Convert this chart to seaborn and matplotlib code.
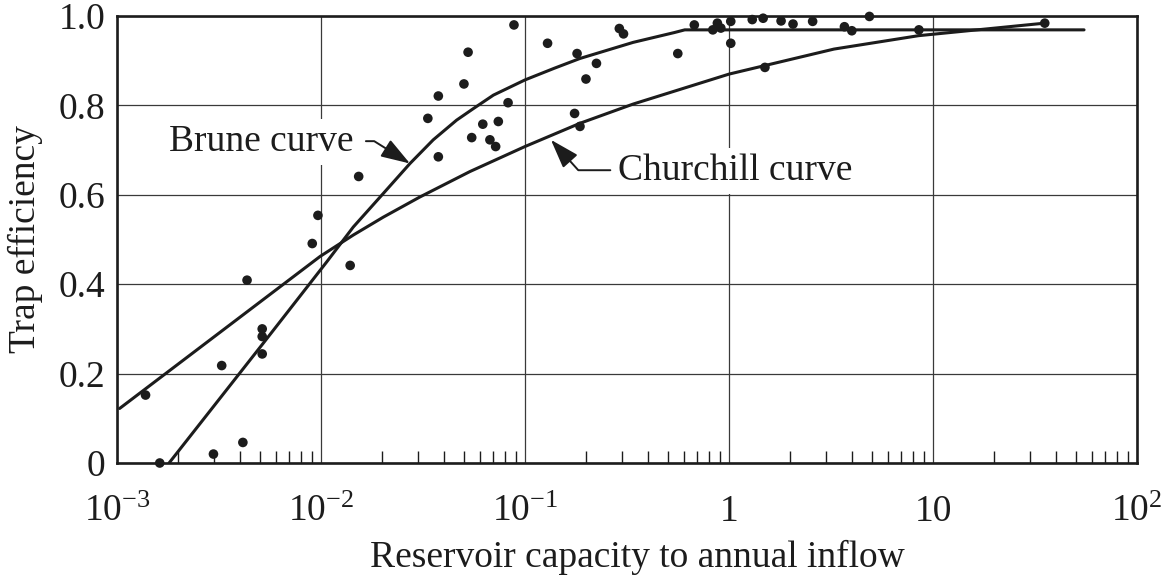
import numpy as np
import matplotlib
matplotlib.use("Agg")
import matplotlib.pyplot as plt
from matplotlib.ticker import LogLocator, NullFormatter
import seaborn as sns

# Observed reservoirs: ratio of capacity to annual inflow and measured trap efficiency
capacity_ratio = [
    1.38e-3, 1.62e-3, 2.97e-3, 4.14e-3, 3.26e-3, 4.34e-3, 5.15e-3, 5.15e-3, 5.15e-3,
    9.06e-3, 9.66e-3, 0.0139, 0.0153, 0.0376, 0.0334, 0.0376, 0.0502, 0.0526, 0.0883,
    0.0548, 0.0621, 0.0740, 0.0673, 0.0718, 0.0826, 0.129, 0.180, 0.224, 0.199, 0.175,
    0.186, 0.290, 0.304, 0.561, 0.676, 0.833, 0.877, 0.912, 1.02, 1.02, 1.30, 1.47,
    1.50, 1.80, 2.06, 2.57, 3.68, 4.00, 4.88, 8.53, 35.3,
]
trap_eff = [
    0.152, 0.0, 0.020, 0.046, 0.218, 0.409, 0.300, 0.283, 0.244,
    0.491, 0.554, 0.442, 0.641, 0.685, 0.771, 0.821, 0.848, 0.919, 0.980,
    0.728, 0.758, 0.764, 0.723, 0.708, 0.806, 0.939, 0.916, 0.894, 0.859, 0.782,
    0.753, 0.972, 0.960, 0.916, 0.980, 0.969, 0.984, 0.973, 0.988, 0.939, 0.992, 0.995,
    0.885, 0.989, 0.982, 0.988, 0.976, 0.967, 0.999, 0.969, 0.984,
]

# Brune median curve
brune_ratio = [1.80e-3, 5.15e-3, 0.01067, 0.0144, 0.0202, 0.0273, 0.0355, 0.0462,
               0.0559, 0.0700, 0.1, 0.139, 0.186, 0.339, 0.540, 0.607, 55.0]
brune_eff = [0.0, 0.265, 0.450, 0.528, 0.603, 0.670, 0.723, 0.767,
             0.793, 0.823, 0.857, 0.883, 0.905, 0.941, 0.963, 0.969, 0.969]

# Churchill curve
churchill_ratio = [1.03e-3, 0.00989, 0.0144, 0.0202, 0.0305, 0.0537, 0.1, 0.186,
                   0.339, 1.0, 3.27, 8.5, 35.3]
churchill_eff = [0.122, 0.462, 0.510, 0.550, 0.595, 0.652, 0.708, 0.760,
                 0.803, 0.870, 0.926, 0.956, 0.984]

decade_ticks = [1e-3, 1e-2, 1e-1, 1, 10, 100]
decade_labels = [r"$10^{-3}$", r"$10^{-2}$", r"$10^{-1}$", "1", "10", r"$10^{2}$"]
eff_ticks = [0, 0.2, 0.4, 0.6, 0.8, 1.0]
eff_labels = ["0", "0.2", "0.4", "0.6", "0.8", "1.0"]

sns.set_theme(style="white")
plt.rcParams["font.family"] = ["Liberation Serif", "DejaVu Serif"]
plt.rcParams["mathtext.fontset"] = "custom"
plt.rcParams["mathtext.rm"] = "Liberation Serif"
plt.rcParams["mathtext.it"] = "Liberation Serif:italic"
plt.rcParams["mathtext.default"] = "regular"
plt.rcParams["font.size"] = 27

ink = "#1c1c1c"
W, H = 1167, 577
fig, ax = plt.subplots(figsize=(W / 100, H / 100), dpi=100)
fig.subplots_adjust(left=117 / W, right=1137 / W, bottom=(H - 463) / H, top=(H - 16) / H)
ax.set_xscale("log")

sns.lineplot(x=brune_ratio, y=brune_eff, ax=ax, color=ink, lw=2.2,
             estimator=None, sort=False, zorder=3)
sns.lineplot(x=churchill_ratio, y=churchill_eff, ax=ax, color=ink, lw=2.2,
             estimator=None, sort=False, zorder=3)
sns.scatterplot(x=capacity_ratio, y=trap_eff, ax=ax, color=ink, s=48,
                edgecolor="none", linewidth=0, zorder=4, clip_on=False)

ax.set_xlim(1e-3, 1e2)
ax.set_ylim(0, 1)
ax.set_xticks(decade_ticks, labels=decade_labels)
ax.set_yticks(eff_ticks, labels=eff_labels)
ax.xaxis.set_minor_locator(LogLocator(base=10, subs=np.arange(2, 10)))
ax.xaxis.set_minor_formatter(NullFormatter())
ax.tick_params(axis="x", which="minor", direction="in", length=8.5, width=1.0,
               color=ink, bottom=True, top=False)
ax.tick_params(axis="x", which="major", length=0, pad=42, labelsize=27, labelcolor=ink)
ax.tick_params(axis="y", which="both", length=0, pad=8.5, labelsize=27, labelcolor=ink)
for lab in ax.get_xticklabels():
    lab.set_verticalalignment("baseline")

ax.set_axisbelow(True)
ax.grid(True, which="major", color="#3a3a3a", lw=0.9)
ax.grid(False, which="minor")
for sp in ax.spines.values():
    sp.set_visible(True)
    sp.set_linewidth(1.9)
    sp.set_color(ink)

ax.set_xlabel("Reservoir capacity to annual inflow", fontsize=27, color=ink)
ax.xaxis.set_label_coords((637 - 117) / 1020, -(567 - 463) / 447)
ax.xaxis.label.set_verticalalignment("baseline")
ax.set_ylabel("Trap efficiency", fontsize=27, color=ink)
ax.yaxis.set_label_coords(-0.090, 0.50)
ax.yaxis.label.set_verticalalignment("center")

box = dict(fc="white", ec="none", boxstyle="square,pad=0.15")
arrow = dict(arrowstyle="-|>,head_length=0.9,head_width=0.3", color=ink, lw=1.4,
             shrinkA=0, shrinkB=0, mutation_scale=20)

ax.text(0.01436, 0.697, "Brune curve", ha="right", va="baseline", fontsize=27,
        color=ink, bbox=box, zorder=2.5)
ax.annotate("", xy=(0.0273, 0.670), xytext=(0.0166, 0.720),
            arrowprops=dict(arrow, connectionstyle="angle,angleA=0,angleB=-32,rad=0"),
            zorder=3)
ax.text(0.286, 0.633, "Churchill curve", ha="left", va="baseline", fontsize=27,
        color=ink, bbox=box, zorder=2.5)
ax.annotate("", xy=(0.134, 0.723), xytext=(0.262, 0.655),
            arrowprops=dict(arrow, connectionstyle="angle,angleA=180,angleB=132,rad=0"),
            zorder=3)

fig.savefig("out.png", dpi=100)
